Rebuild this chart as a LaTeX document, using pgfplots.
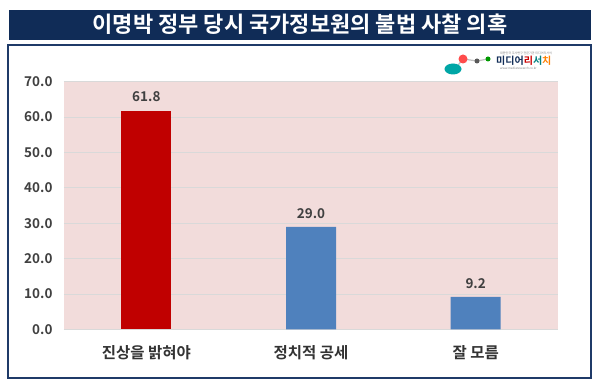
\documentclass[border=0pt]{standalone}
\usepackage{pgfplots}
\pgfplotsset{compat=1.18}
\usepackage{fontspec}
\setmainfont{Noto Sans CJK KR}[BoldFont={Noto Sans CJK KR Bold}]
\definecolor{navy}{HTML}{102C57}
\definecolor{boxline}{HTML}{1F3A68}
\definecolor{barred}{HTML}{C00000}
\definecolor{barblue}{HTML}{4F81BD}
\definecolor{pinkbg}{HTML}{F2DCDB}
\definecolor{txt}{HTML}{404040}
\begin{document}
\begin{tikzpicture}[x=1pt,y=1pt]
\useasboundingbox (0,0) rectangle (600,385);
\fill[white] (0,0) rectangle (600,385);
% title bar
\fill[navy] (9,345) rectangle (591,375);
\node[white, font=\bfseries\fontsize{22}{24}\selectfont] at (300,360.5) {이명박 정부 당시 국가정보원의 불법 사찰 의혹};
% chart box
\draw[boxline, line width=1.2pt] (8,7) rectangle (591,340);
% logo
\draw[gray!50, line width=1.2pt] (455,316) -- (463,326) -- (477,324) -- (488,326);
\fill[teal!70!cyan] (453,316) ellipse (8.5 and 5.5);
\fill[red!70!white] (463,326) circle (4.5);
\fill[black!65] (477,324) circle (2.5);
\fill[green!60!black] (488,326) circle (2.5);
\node[anchor=west, inner sep=0, font=\bfseries\fontsize{10}{10}\selectfont] at (496,324) {\textcolor{navy}{미디어}\textcolor{red!80!black}{리}\textcolor{teal}{서}\textcolor{orange}{치}};
\node[anchor=west, inner sep=0, font=\fontsize{3}{3}\selectfont, gray] at (500,332) {대한민국 조사연구 전문기관 미디어리서치};
\node[anchor=west, inner sep=0, font=\fontsize{3}{3}\selectfont, gray] at (500,316.5) {www.mediaresearch.co.kr};
\begin{axis}[
  at={(64pt,55.5pt)}, anchor=south west, scale only axis,
  width=494pt, height=248pt,
  xmin=-0.5, xmax=2.5, ymin=0, ymax=70,
  xtick={0,1,2},
  xticklabels={진상을 밝혀야, 정치적 공세, 잘 모름},
  ytick={0,10,...,70},
  major tick length=0pt,
  axis background/.style={fill=pinkbg},
  ymajorgrids, grid style={draw=black!15, line width=0.8pt},
  axis x line*=bottom, axis y line*=left,
  y axis line style={draw=none},
  x axis line style={draw=black!15, line width=0.8pt},
  yticklabel={\pgfmathprintnumber[fixed, fixed zerofill, precision=1, assume math mode=true]{\tick}},
  yticklabel style={font=\bfseries\fontsize{13.5}{14}\selectfont, text=txt, xshift=-8pt},
  xticklabel style={font=\bfseries\fontsize{15.5}{17}\selectfont, text=black!80, yshift=-12pt},
  ybar, bar width=50pt,
  nodes near coords={\pgfmathprintnumber[fixed, fixed zerofill, precision=1, assume math mode=true]{\pgfplotspointmeta}},
  nodes near coords style={font=\bfseries\fontsize{13.5}{14}\selectfont, text=txt, yshift=5pt},
]
\addplot[fill=barred, draw=none, bar shift=0pt] coordinates {(0,61.8)};
\addplot[fill=barblue, draw=none, bar shift=0pt] coordinates {(1,29.0) (2,9.2)};
\end{axis}
\end{tikzpicture}
\end{document}
